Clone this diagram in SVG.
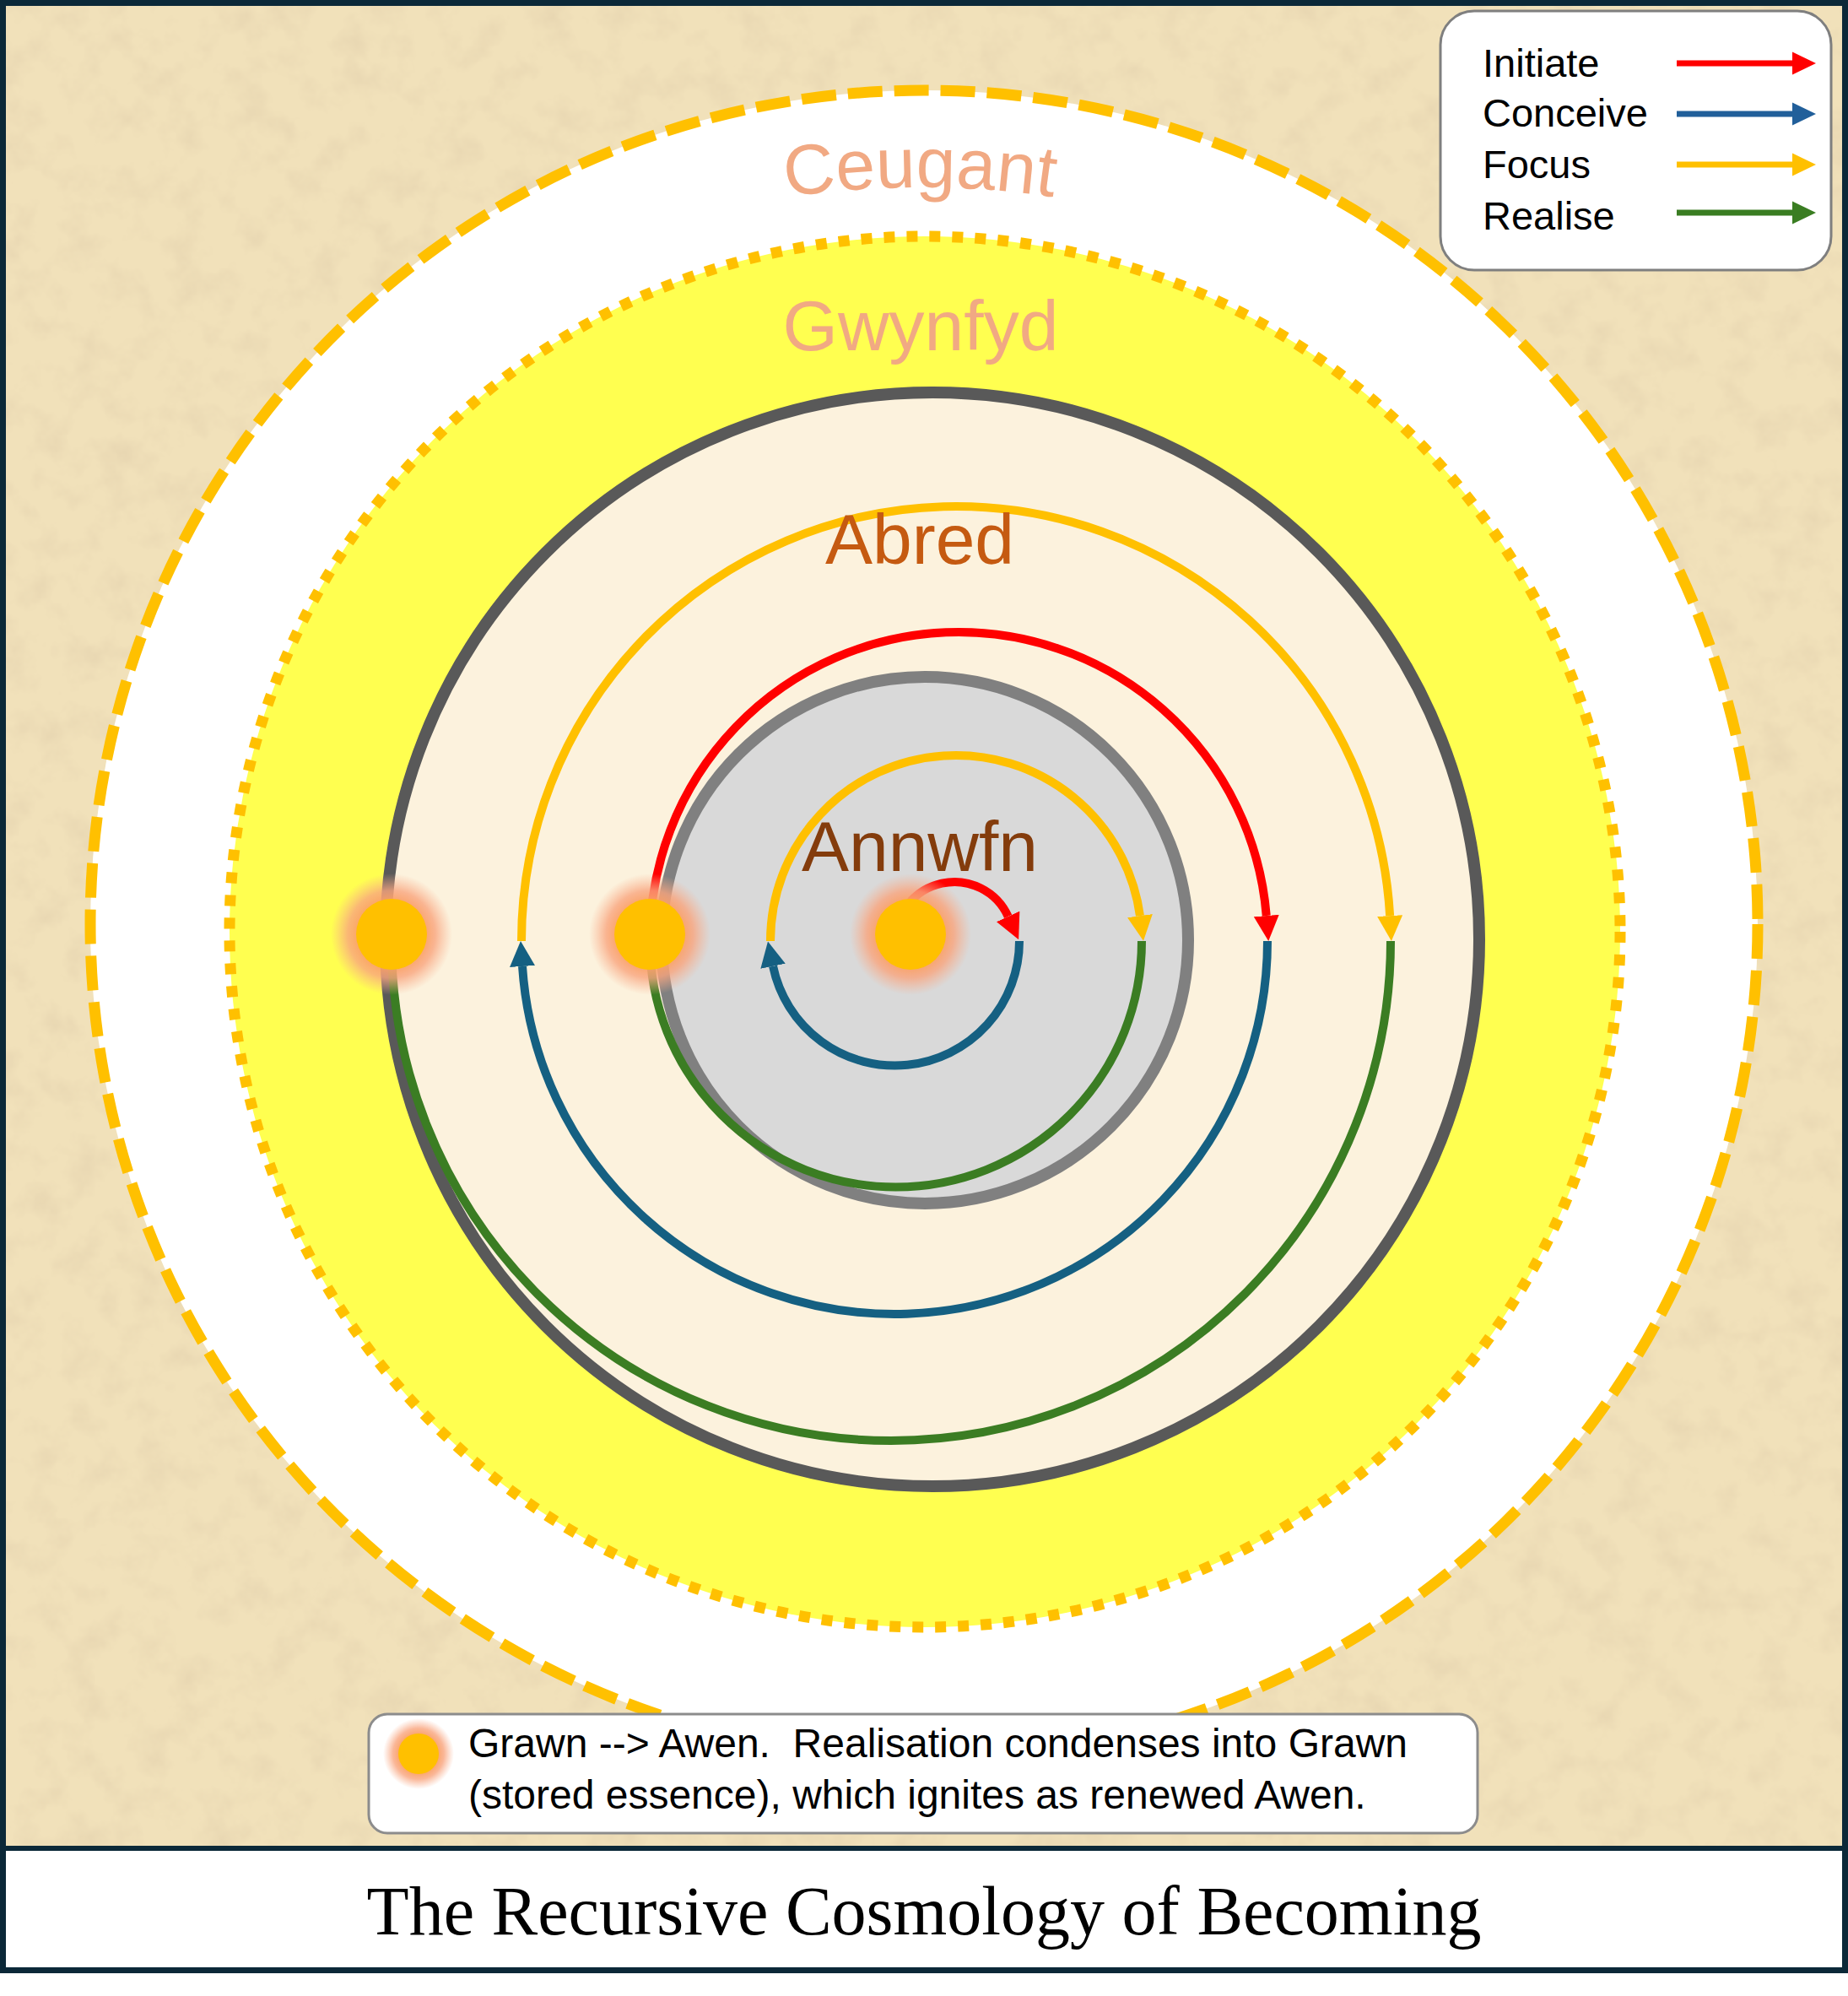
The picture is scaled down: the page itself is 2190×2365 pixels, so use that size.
<svg xmlns="http://www.w3.org/2000/svg" width="2190" height="2365" viewBox="0 0 2190 2365">
<style>
.lbl{font-family:"Liberation Sans",Arial,sans-serif;font-size:84px;text-anchor:middle}
.leg{font-family:"Liberation Sans",Arial,sans-serif;font-size:47px;fill:#000}
.note{font-family:"Liberation Sans",Arial,sans-serif;font-size:48px;fill:#000;white-space:pre}
.arc{fill:none;stroke-width:10}
.red{stroke:#FF0000}
.blue{stroke:#156082}
.yel{stroke:#FFC000}
.grn{stroke:#3B7D23}
</style>
<defs>
<filter id="paper" filterUnits="userSpaceOnUse" x="0" y="0" width="2190" height="2190">
<feTurbulence type="fractalNoise" baseFrequency="0.025" numOctaves="4" seed="7" result="n"/>
<feColorMatrix in="n" type="matrix" values="0 0 0 0 0.80  0 0 0 0 0.67  0 0 0 0 0.44  1.9 0 0 0 -0.85"/>
</filter>
<radialGradient id="glow">
<stop offset="0.5" stop-color="#FBA060" stop-opacity="1"/>
<stop offset="0.72" stop-color="#F9A57E" stop-opacity="0.8"/>
<stop offset="1" stop-color="#F9B090" stop-opacity="0"/>
</radialGradient>
<marker id="ahRed" viewBox="0 0 30 30" markerUnits="userSpaceOnUse" markerWidth="30" markerHeight="30" refX="0" refY="15" orient="auto"><path d="M0,0 L30,15 L0,30 z" fill="#FF0000"/></marker>
<marker id="ahBlue" viewBox="0 0 30 30" markerUnits="userSpaceOnUse" markerWidth="30" markerHeight="30" refX="0" refY="15" orient="auto"><path d="M0,0 L30,15 L0,30 z" fill="#156082"/></marker>
<marker id="ahYel" viewBox="0 0 30 30" markerUnits="userSpaceOnUse" markerWidth="30" markerHeight="30" refX="0" refY="15" orient="auto"><path d="M0,0 L30,15 L0,30 z" fill="#FFC000"/></marker>
</defs>

<rect x="0" y="0" width="2190" height="2365" fill="#FFFFFF"/>
<rect x="0" y="0" width="2190" height="2190" fill="#F1E1BA"/>
<rect x="0" y="0" width="2190" height="2190" fill="#000" filter="url(#paper)"/>

<g id="ceugant">
<circle cx="1095" cy="1095" r="988" fill="#FFFFFF" stroke="#FFC000" stroke-width="13" stroke-dasharray="41 14"/>
</g>
<g id="gwynfyd">
<circle cx="1096" cy="1104" r="824" fill="#FFFF50" stroke="#FFC000" stroke-width="13" stroke-dasharray="13 14"/>
</g>
<g id="abred">
<circle cx="1105" cy="1113" r="648" fill="#FCF2DD" stroke="#595959" stroke-width="14"/>
</g>
<g id="annwfn">
<circle cx="1096" cy="1114" r="312" fill="#D9D9D9" stroke="#808080" stroke-width="14"/>
</g>

<g id="connectors">
<path class="arc red" d="M1061,1115 A70,70 0 0 1 1194.67,1085.91" marker-end="url(#ahRed)"/>
<path class="arc blue" d="M1208,1115 A147.5,147.5 0 0 1 916.04,1144.79" marker-end="url(#ahBlue)"/>
<path class="arc yel" d="M913,1115 A220,220 0 0 1 1350.96,1085.09" marker-end="url(#ahYel)"/>
<path class="arc grn" d="M1353,1115 A291.5,291.5 0 0 1 770,1115"/>
<path class="arc red" d="M770,1115 A366,366 0 0 1 1500.77,1085.03" marker-end="url(#ahRed)"/>
<path class="arc blue" d="M1502,1115 A442,442 0 0 1 619.02,1144.98" marker-end="url(#ahBlue)"/>
<path class="arc yel" d="M618,1115 A515,515 0 0 1 1647.13,1085.02" marker-end="url(#ahYel)"/>
<path class="arc grn" d="M1648,1115 A592,592 0 0 1 464,1115"/>
</g>

<g id="labels">
<path id="ceugantPath" d="M700,293.5 A1100,1100 0 0 1 1480,293.5" fill="none"/>
<text class="lbl" fill="#F1A983"><textPath href="#ceugantPath" startOffset="50%">Ceugant</textPath></text>
<text class="lbl" x="1091" y="415" fill="#F1A983">Gwynfyd</text>
<text class="lbl" x="1090" y="668" fill="#C55A11">Abred</text>
<text class="lbl" x="1090" y="1032" fill="#843C0C">Annwfn</text>
</g>

<g id="grawn-outer">
<circle cx="464" cy="1107" r="72" fill="url(#glow)"/>
<circle cx="464" cy="1107" r="42" fill="#FFC000"/>
</g>
<g id="grawn-middle">
<circle cx="770" cy="1107" r="72" fill="url(#glow)"/>
<circle cx="770" cy="1107" r="42" fill="#FFC000"/>
</g>
<g id="grawn-centre">
<circle cx="1079" cy="1107" r="72" fill="url(#glow)"/>
<circle cx="1079" cy="1107" r="42" fill="#FFC000"/>
</g>

<g id="legend">
<rect x="1707" y="13" width="463" height="307" rx="40" fill="#FFFFFF" stroke="#7F7F7F" stroke-width="3"/>
<text class="leg" x="1757" y="91">Initiate</text>
<text class="leg" x="1757" y="150">Conceive</text>
<text class="leg" x="1757" y="211">Focus</text>
<text class="leg" x="1757" y="272">Realise</text>
<line x1="1987" y1="75" x2="2126" y2="75" stroke="#FF0000" stroke-width="7"/>
<polygon points="2124,61.5 2152,75 2124,88.5" fill="#FF0000"/>
<line x1="1987" y1="135" x2="2126" y2="135" stroke="#215F9A" stroke-width="7"/>
<polygon points="2124,121.5 2152,135 2124,148.5" fill="#215F9A"/>
<line x1="1987" y1="195" x2="2126" y2="195" stroke="#FFC000" stroke-width="7"/>
<polygon points="2124,181.5 2152,195 2124,208.5" fill="#FFC000"/>
<line x1="1987" y1="252" x2="2126" y2="252" stroke="#3A7D22" stroke-width="7"/>
<polygon points="2124,238.5 2152,252 2124,265.5" fill="#3A7D22"/>
</g>

<g id="note">
<rect x="437" y="2031" width="1314" height="141" rx="22" fill="#FFFFFF" stroke="#8C8C8C" stroke-width="3"/>
<circle cx="496" cy="2078" r="42" fill="url(#glow)"/>
<circle cx="496" cy="2078" r="24" fill="#FFC000"/>
<text class="note" x="555" y="2082">Grawn --&gt; Awen.  Realisation condenses into Grawn</text>
<text class="note" x="555" y="2143">(stored essence), which ignites as renewed Awen.</text>
</g>

<g id="frame">
<rect x="3.5" y="3.5" width="2183" height="2331" fill="none" stroke="#0B2838" stroke-width="7"/>
<line x1="0" y1="2190" x2="2190" y2="2190" stroke="#0B2838" stroke-width="6"/>
</g>
<g id="title">
<text x="1095" y="2292" font-family="'Liberation Serif','Times New Roman',serif" font-size="82" text-anchor="middle" fill="#000">The Recursive Cosmology of Becoming</text>
</g>
</svg>
